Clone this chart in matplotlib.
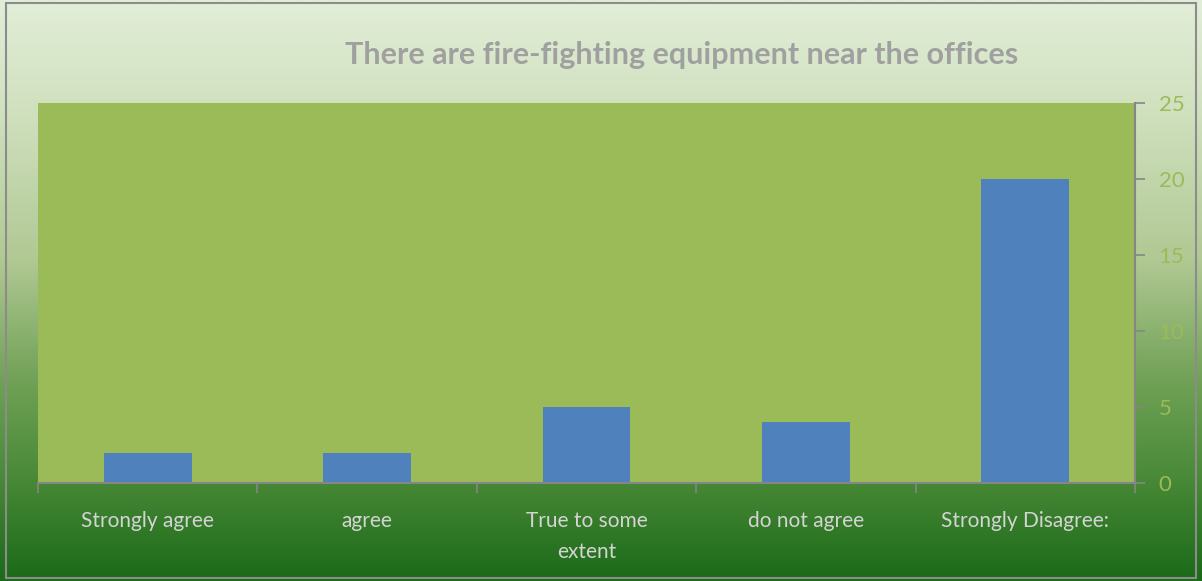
import numpy as np
import matplotlib.pyplot as plt
from matplotlib.colors import LinearSegmentedColormap
from matplotlib.patches import Rectangle

categories = ['Strongly agree', 'agree', 'True to some\nextent', 'do not agree', 'Strongly Disagree:']
counts = [2, 2, 5, 4, 20]
yticks = [0, 5, 10, 15, 20, 25]
title = 'There are fire-fighting equipment near the offices'

plt.rcParams['font.family'] = ['Lato', 'DejaVu Sans']

fig = plt.figure(figsize=(12.02, 5.81), dpi=100)

# background gradient, light green at top to dark green at bottom
bg = fig.add_axes([0, 0, 1, 1], zorder=0)
grad = LinearSegmentedColormap.from_list('bg', [
    (0.0, '#1a6a18'),
    (0.18, '#4a8a38'),
    (0.35, '#72a257'),
    (0.55, '#b0c893'),
    (0.8, '#cfe0bd'),
    (1.0, '#e2eed8'),
])
bg.imshow(np.linspace(0, 1, 256).reshape(-1, 1), cmap=grad, aspect='auto',
          origin='lower', extent=[0, 1, 0, 1])
bg.add_patch(Rectangle((0.005, 0.005), 0.99, 0.99, fill=False, edgecolor='#8c8c8c', lw=1.5))
bg.set_xlim(0, 1)
bg.set_ylim(0, 1)
bg.axis('off')

ax = fig.add_axes([0.0316, 0.1687, 0.9127, 0.654], zorder=1)
ax.set_facecolor('#9bbb59')
x = np.arange(len(categories))
ax.bar(x, counts, width=0.4, color='#4f81bd', zorder=2)

ax.set_xlim(-0.5, len(categories) - 0.5)
ax.set_ylim(0, 25)
ax.yaxis.tick_right()
ax.set_yticks(yticks)
ax.tick_params(axis='y', colors='#868686', labelcolor='#9bbb59', labelsize=16,
               length=7, width=1.2, pad=10)
ax.set_xticks(x)
ax.set_xticklabels(categories, linespacing=1.7)
ax.set_xticks(np.arange(-0.5, len(categories)), minor=True)
ax.tick_params(axis='x', which='major', length=0, labelcolor='#d4d4d4', labelsize=15, pad=20)
ax.tick_params(axis='x', which='minor', length=7, width=1.2, color='#868686')

for side in ['top', 'left']:
    ax.spines[side].set_visible(False)
for side in ['bottom', 'right']:
    ax.spines[side].set_color('#868686')
    ax.spines[side].set_linewidth(1.5)

fig.text(0.5674, 0.905, title, ha='center', va='center', fontsize=22,
         fontweight='bold', color='#a0a0a0')

fig.savefig('out.png', dpi=100)
